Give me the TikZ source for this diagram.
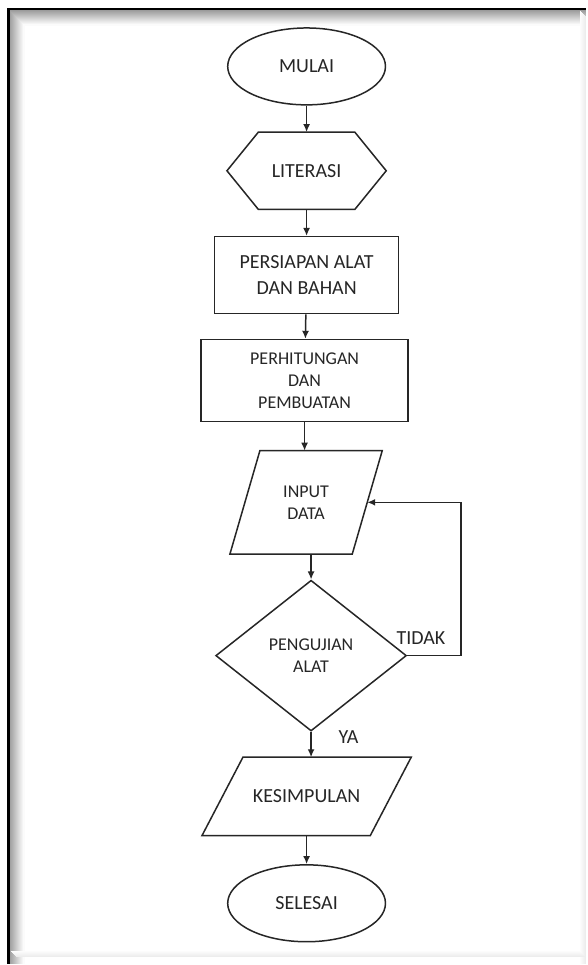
\documentclass[tikz,border=0pt]{standalone}
\usepackage{fontspec}
\setmainfont{Carlito}
\usetikzlibrary{shapes.geometric,arrows.meta}

\begin{document}
\begin{tikzpicture}[
		x=1pt, y=-1pt,
		line width=1.5pt,
		every node/.style={draw=black!85, text=black!85, inner sep=0pt, align=center,
			font=\fontsize{20}{26}\selectfont},
		kecil/.style={font=\fontsize{18}{22}\selectfont},
		terminal/.style={ellipse, minimum width=158pt, minimum height=77pt},
		proses/.style={rectangle, minimum width=184pt, minimum height=77pt},
		isi/.style={rectangle, draw=none},
		keputusan/.style={diamond, minimum width=191pt, minimum height=151pt},
		teks/.style={draw=none},
		garis/.style={draw=black!85},
		panah/.style={draw=black!85, -{Latex[length=8pt,width=7pt]}}
		]
		% bingkai
		\fill[white] (0,0) rectangle (587,965);
		\foreach \i in {1,...,15}{
			\pgfmathsetmacro\tint{42-2.7*\i}
			\draw[black!\tint, line width=1.1pt] (9+\i,965) -- (9+\i,10+\i) -- (587,10+\i);
		}
		\foreach \i in {1,...,6}{
			\pgfmathsetmacro\tint{1.2*\i}
			\draw[black!\tint, line width=1.1pt] (580+\i,10+\i) -- (580+\i,965);
			\draw[black!\tint, line width=1.1pt] (10+\i,952+\i) -- (587,952+\i);
		}
		\draw[black, line width=2.6pt] (8.5,965) -- (8.5,9) -- (587,9);
		
		% alur
		\node (mulai) [terminal] at (307,66.5) {MULAI};
		\node (literasi) [isi, minimum width=95pt, minimum height=76pt] at (307,171) {LITERASI};
		\draw[garis] (literasi.north west) -- (literasi.north east)
			-- ([xshift=31.5pt]literasi.east) -- (literasi.south east)
			-- (literasi.south west) -- ([xshift=-31.5pt]literasi.west) -- cycle;
		\node (persiapan) [proses] at (307,275.5) {PERSIAPAN ALAT\\DAN BAHAN};
		\node (hitung) [proses, kecil, minimum width=207pt, minimum height=82pt] at (305,381)
			{PERHITUNGAN\\DAN\\PEMBUATAN};
		\node (input) [isi, kecil, minimum width=121pt, minimum height=102pt] at (306.5,503)
			{INPUT\\DATA};
		\draw[garis] ([xshift=15pt]input.north west) -- ([xshift=15pt]input.north east)
			-- ([xshift=-15pt]input.south east) -- ([xshift=-15pt]input.south west) -- cycle;
		\node (uji) [keputusan, kecil] at (311.5,656.5) {PENGUJIAN\\ALAT};
		\node (kesimpulan) [isi, minimum width=167pt, minimum height=77pt] at (307,797.5)
			{KESIMPULAN};
		\draw[garis] ([xshift=20.5pt]kesimpulan.north west) -- ([xshift=20.5pt]kesimpulan.north east)
			-- ([xshift=-20.5pt]kesimpulan.south east) -- ([xshift=-20.5pt]kesimpulan.south west) -- cycle;
		\node (selesai) [terminal] at (307,904.5) {SELESAI};
		
		\node (tidak) [teks] at (421.5,639) {TIDAK};
		\node (ya) [teks] at (349,738) {YA};
		
		\draw[panah] (mulai) -- (literasi.north);
		\draw[panah] (literasi.south) -- (persiapan);
		\draw[panah] (persiapan) -- (hitung);
		\draw[panah] (hitung.south) -- (hitung.south |- input.north);
		\draw[panah] (uji.north |- input.south) -- (uji.north);
		\draw[panah] (uji.south) -- (uji.south |- kesimpulan.north);
		\draw[panah] (kesimpulan.south) -- (selesai);
		\draw[panah] (uji.east) -- ++(54,0) |- (input.east);
\end{tikzpicture}
\end{document}
